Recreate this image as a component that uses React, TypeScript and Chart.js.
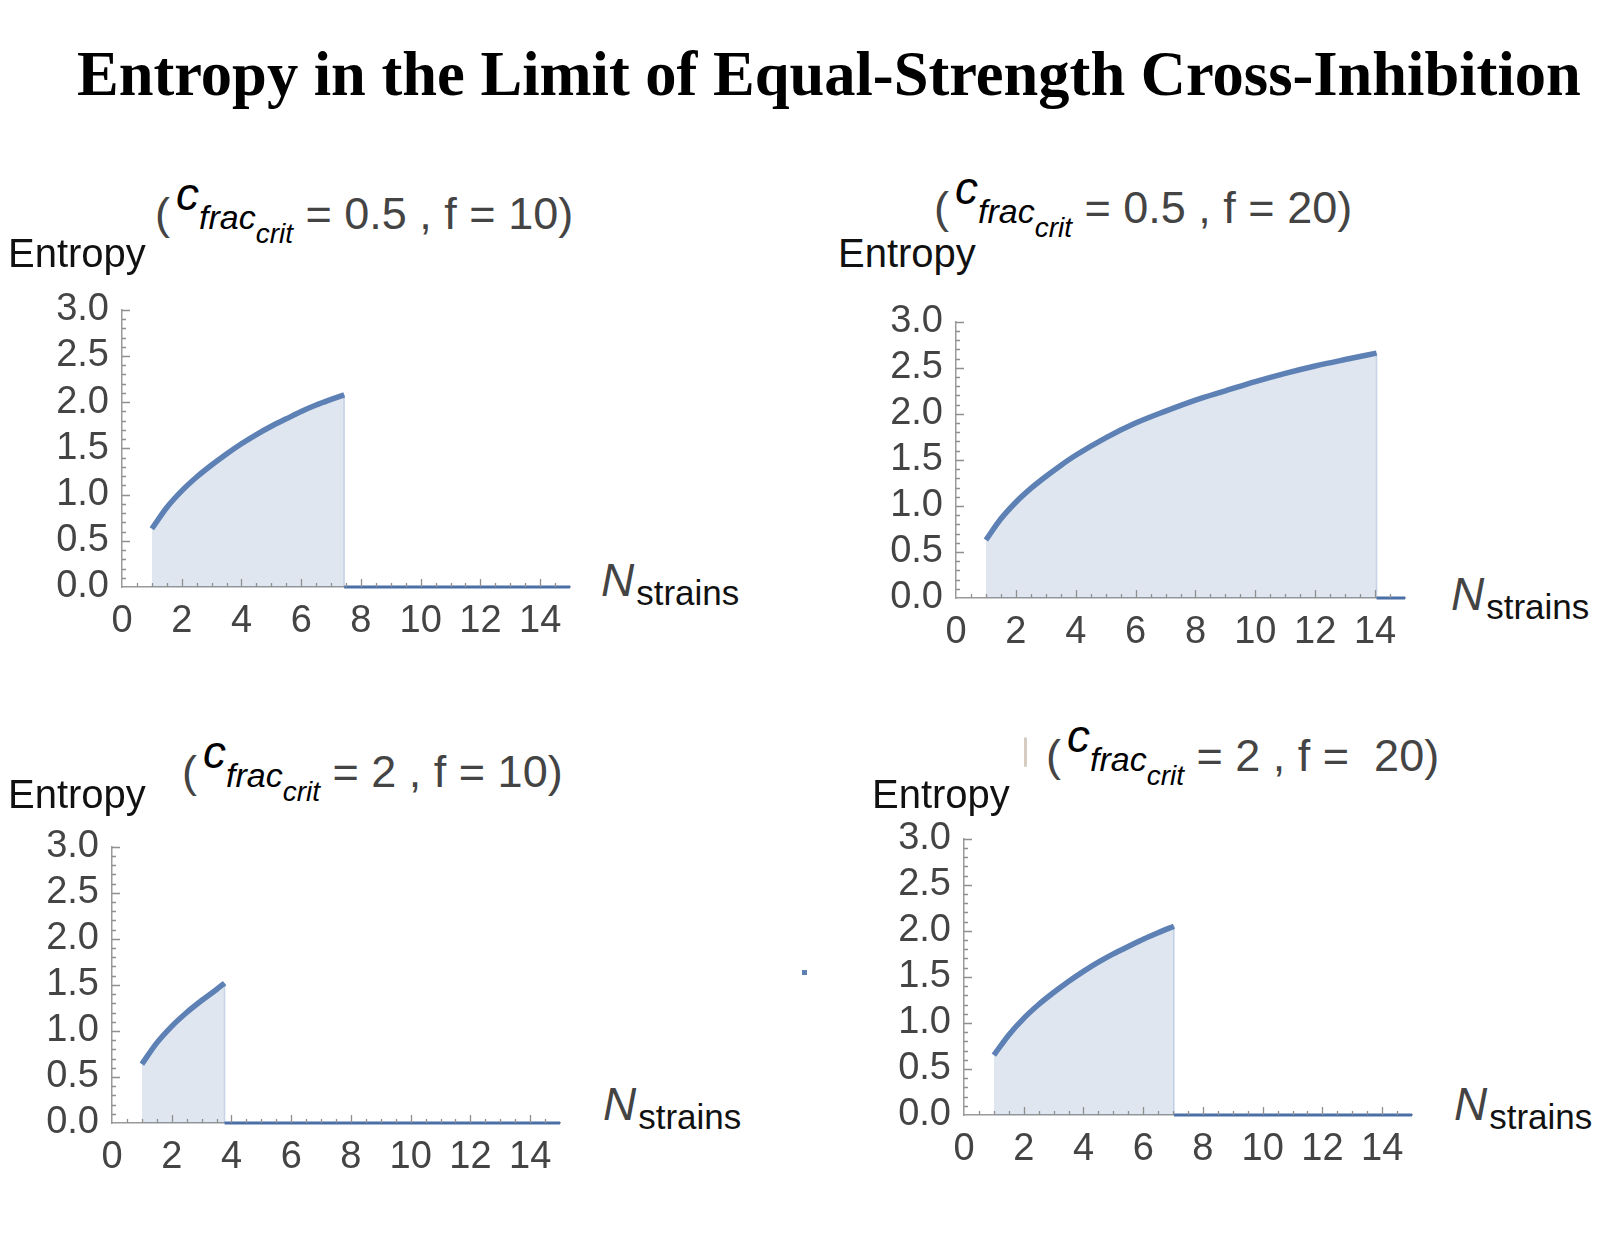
import React, { useEffect, useRef } from "react";
import { Chart, registerables } from "chart.js";

Chart.register(...registerables);

// axis ticks (Mathematica style)
const xTicks = [0, 2, 4, 6, 8, 10, 12, 14];
const yTicks = [0, 0.5, 1, 1.5, 2, 2.5, 3];
const X_MAX = 15;
const Y_MAX = 3;

// (c_frac_crit = 0.5, f = 10)
const strains1 = [1, 1.5, 2, 2.5, 3, 3.5, 4, 4.5, 5, 5.5, 6, 6.5, 7, 7.44];
const entropy1 = [0.63, 0.86, 1.04, 1.19, 1.32, 1.44, 1.55, 1.65, 1.74, 1.82, 1.9, 1.97, 2.03, 2.08];

// (c_frac_crit = 0.5, f = 20)
const strains2 = [1, 1.5, 2, 2.5, 3, 3.5, 4, 5, 6, 7, 8, 9, 10, 11, 12, 13, 14.05];
const entropy2 = [0.63, 0.86, 1.04, 1.19, 1.32, 1.44, 1.55, 1.74, 1.9, 2.03, 2.15, 2.25, 2.35, 2.44, 2.52, 2.59, 2.66];

// (c_frac_crit = 2, f = 10)
const strains3 = [1, 1.5, 2, 2.5, 3, 3.5, 3.77];
const entropy3 = [0.64, 0.87, 1.05, 1.2, 1.33, 1.45, 1.52];

// (c_frac_crit = 2, f = 20)
const strains4 = [1, 1.5, 2, 2.5, 3, 3.5, 4, 4.5, 5, 5.5, 6, 6.5, 7.03];
const entropy4 = [0.65, 0.87, 1.05, 1.2, 1.33, 1.45, 1.56, 1.66, 1.75, 1.83, 1.91, 1.98, 2.05];

const cFracValues = ["0.5", "0.5", "2", "2"];
const fValues = ["10", "20", "10", " 20"];

const SANS = '"Liberation Sans", Arial, Helvetica, sans-serif';
const GRAY = "#444";
const LINE = "#5e81b5";

const PAD_L = 100;
const PAD_T = 25;
const PAD_R = 15;
const PAD_B = 65;

// draws the small inward pointing ticks
const inwardTicks = {
  id: "inwardTicks",
  afterDatasetsDraw(chart: any) {
    const { ctx, chartArea, scales } = chart;
    const x = scales.x;
    const y = scales.y;
    ctx.save();
    ctx.strokeStyle = "#8f8f8f";
    ctx.lineWidth = 1.3;
    ctx.beginPath();
    for (let i = 1; i < X_MAX * 2; i++) {
      const px = Math.round(x.getPixelForValue(i * 0.5)) + 0.5;
      const len = i % 4 === 0 ? 8 : 4;
      ctx.moveTo(px, chartArea.bottom);
      ctx.lineTo(px, chartArea.bottom - len);
    }
    for (let i = 1; i <= Y_MAX * 10; i++) {
      const py = Math.round(y.getPixelForValue(i * 0.1)) + 0.5;
      const len = i % 5 === 0 ? 8 : 4;
      ctx.moveTo(chartArea.left, py);
      ctx.lineTo(chartArea.left + len, py);
    }
    ctx.stroke();
    ctx.restore();
  },
};

interface Layout {
  area: { left: number; top: number; width: number; height: number };
  entropy: { left: number; baseline: number };
  sub: { left: number; baseline: number };
  n: { left: number; baseline: number };
}

const layouts: Layout[] = [
  {
    area: { left: 122, top: 299, width: 448, height: 288 },
    entropy: { left: 8, baseline: 267 },
    sub: { left: 155, baseline: 229 },
    n: { left: 601, baseline: 596 },
  },
  {
    area: { left: 956, top: 311, width: 449, height: 287 },
    entropy: { left: 838, baseline: 267 },
    sub: { left: 934, baseline: 223 },
    n: { left: 1451, baseline: 610 },
  },
  {
    area: { left: 112, top: 836, width: 448, height: 287 },
    entropy: { left: 8, baseline: 808 },
    sub: { left: 182, baseline: 787 },
    n: { left: 603, baseline: 1120 },
  },
  {
    area: { left: 964, top: 828, width: 448, height: 287 },
    entropy: { left: 872, baseline: 808 },
    sub: { left: 1046, baseline: 771 },
    n: { left: 1454, baseline: 1120 },
  },
];

interface PanelProps {
  strains: number[];
  entropy: number[];
  cFrac: string;
  f: string;
  layout: Layout;
}

const Panel: React.FC<PanelProps> = ({ strains, entropy, cFrac, f, layout }) => {
  const chartRef = useRef<HTMLCanvasElement>(null);

  useEffect(() => {
    const ctx = chartRef.current?.getContext("2d");
    if (!ctx) return;
    const cut = strains[strains.length - 1];
    const curve = strains.map((n, i) => ({ x: n, y: entropy[i] }));

    const myChart = new Chart(ctx, {
      type: "line",
      data: {
        datasets: [
          {
            data: curve,
            borderColor: LINE,
            borderWidth: 5.5,
            backgroundColor: "rgba(94, 129, 181, 0.2)",
            fill: "origin",
            pointRadius: 0,
            cubicInterpolationMode: "monotone",
            borderCapStyle: "butt",
            clip: 10,
          },
          {
            // right edge of the filled region
            data: [
              { x: cut, y: 0 },
              { x: cut, y: entropy[entropy.length - 1] },
            ],
            borderColor: "rgba(94, 129, 181, 0.3)",
            borderWidth: 1.5,
            pointRadius: 0,
            fill: false,
            clip: 10,
          },
          {
            // entropy is zero beyond the cut-off
            data: [
              { x: cut, y: 0 },
              { x: X_MAX, y: 0 },
            ],
            borderColor: "#4a6ea6",
            borderWidth: 3,
            pointRadius: 0,
            fill: false,
            clip: 10,
          },
        ],
      },
      options: {
        responsive: true,
        maintainAspectRatio: false,
        animation: false,
        layout: { padding: { top: PAD_T, right: PAD_R, left: 0, bottom: 0 } },
        plugins: {
          legend: { display: false },
          tooltip: { enabled: false },
          title: { display: false },
        },
        scales: {
          x: {
            type: "linear",
            min: 0,
            max: X_MAX,
            afterBuildTicks: (scale: any) => {
              scale.ticks = xTicks.map((v) => ({ value: v }));
            },
            afterFit: (scale: any) => {
              scale.height = PAD_B;
            },
            grid: { display: false, drawTicks: false, tickLength: 0 },
            border: { display: true, color: "#9a9a9a", width: 1.5 },
            ticks: {
              color: "#444",
              font: { family: SANS, size: 38 },
              padding: 12,
              maxRotation: 0,
              autoSkip: false,
              callback: (v: any) => String(v),
            },
          },
          y: {
            type: "linear",
            min: 0,
            max: Y_MAX,
            afterBuildTicks: (scale: any) => {
              scale.ticks = yTicks.map((v) => ({ value: v }));
            },
            afterFit: (scale: any) => {
              scale.width = PAD_L;
            },
            grid: { display: false, drawTicks: false, tickLength: 0 },
            border: { display: true, color: "#9a9a9a", width: 1.5 },
            ticks: {
              color: "#444",
              font: { family: SANS, size: 38 },
              padding: 13,
              autoSkip: false,
              callback: (v: any) => Number(v).toFixed(1),
            },
          },
        },
      },
      plugins: [inwardTicks],
    });

    return () => myChart.destroy();
  }, [strains, entropy]);

  const { area } = layout;

  return (
    <>
      <div
        style={{
          position: "absolute",
          left: area.left - PAD_L,
          top: area.top - PAD_T,
          width: area.width + PAD_L + PAD_R,
          height: area.height + PAD_T + PAD_B,
        }}
      >
        <canvas ref={chartRef} />
      </div>

      <div
        style={{
          position: "absolute",
          left: layout.entropy.left,
          top: layout.entropy.baseline - 0.8465 * 40,
          fontFamily: SANS,
          fontSize: 40,
          lineHeight: 1,
          color: "#111",
          whiteSpace: "nowrap",
        }}
      >
        Entropy
      </div>

      <div
        style={{
          position: "absolute",
          left: layout.sub.left,
          top: layout.sub.baseline - 0.8465 * 45,
          fontFamily: SANS,
          fontSize: 45,
          lineHeight: 1,
          color: GRAY,
          whiteSpace: "pre",
        }}
      >
        <span>(</span>
        <span style={{ fontStyle: "italic", color: "#000", fontSize: 46, lineHeight: 0, position: "relative", top: -19, marginLeft: 6 }}>c</span>
        <span style={{ fontStyle: "italic", color: "#000", fontSize: 34, lineHeight: 0 }}>frac</span>
        <span style={{ fontStyle: "italic", color: "#000", fontSize: 28, lineHeight: 0, position: "relative", top: 14 }}>crit</span>
        <span>{` = ${cFrac} , f = ${f})`}</span>
      </div>

      <div
        style={{
          position: "absolute",
          left: layout.n.left,
          top: layout.n.baseline - 0.8465 * 46,
          fontFamily: SANS,
          fontSize: 46,
          lineHeight: 1,
          whiteSpace: "nowrap",
        }}
      >
        <span style={{ fontStyle: "italic", color: GRAY }}>N</span>
        <span style={{ fontSize: 35, color: "#111", position: "relative", top: 9, marginLeft: 2, lineHeight: 0 }}>strains</span>
      </div>
    </>
  );
};

const strainsList = [strains1, strains2, strains3, strains4];
const entropyList = [entropy1, entropy2, entropy3, entropy4];

export default function App() {
  return (
    <div
      style={{
        position: "absolute",
        left: 0,
        top: 0,
        width: 1614,
        height: 1246,
        background: "#fff",
        overflow: "hidden",
      }}
    >
      <div
        style={{
          position: "absolute",
          left: 77,
          top: 95 - 0.8375 * 62.5,
          fontFamily: '"Liberation Serif", "Times New Roman", serif',
          fontWeight: "bold",
          fontSize: 62.5,
          lineHeight: 1,
          color: "#000",
          whiteSpace: "nowrap",
        }}
      >
        Entropy in the Limit of Equal-Strength Cross-Inhibition
      </div>

      {layouts.map((layout, i) => (
        <Panel
          key={i}
          strains={strainsList[i]}
          entropy={entropyList[i]}
          cFrac={cFracValues[i]}
          f={fValues[i]}
          layout={layout}
        />
      ))}

      {/* leftover sliver of a bracket before the last subtitle */}
      <div style={{ position: "absolute", left: 1024, top: 737, width: 3, height: 30, background: "#d6ccc2", borderRadius: 2 }} />

      {/* stray blue speck between the lower panels */}
      <div style={{ position: "absolute", left: 802, top: 970, width: 5, height: 5, background: LINE }} />
    </div>
  );
}
